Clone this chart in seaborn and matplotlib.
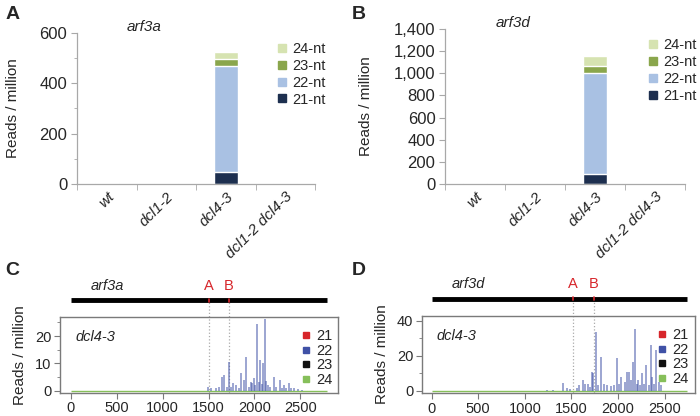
import numpy as np
import pandas as pd
import seaborn as sns
import matplotlib.pyplot as plt
from matplotlib.lines import Line2D
from matplotlib.ticker import MultipleLocator, FuncFormatter
import matplotlib.transforms as mtrans

sns.set_style("white")
plt.rcParams['font.family'] = ['Liberation Sans', 'DejaVu Sans']

# ---- data: stacked bars (reads / million) ----
genotypes = ['wt', 'dcl1-2', 'dcl4-3', 'dcl1-2 dcl4-3']
size_classes = ['21-nt', '22-nt', '23-nt', '24-nt']
arf3a_21 = [0.5, 0.3, 48, 0.3]
arf3a_22 = [2.0, 0.8, 422, 0.8]
arf3a_23 = [1.0, 0.6, 26, 0.6]
arf3a_24 = [2.5, 1.3, 28, 1.3]
arf3d_21 = [1.0, 0.5, 94, 0.5]
arf3d_22 = [3.0, 2.0, 907, 2.0]
arf3d_23 = [1.5, 1.0, 66, 1.0]
arf3d_24 = [3.5, 2.5, 85, 2.5]

# ---- data: dcl4-3 small RNA positions along transcripts ----
arf3a_len = 2795
arf3a_sites = [1502, 1720]
arf3a_pos = [1494, 1530, 1580, 1610, 1646, 1664, 1700, 1719, 1740, 1762, 1798, 1830,
             1854, 1890, 1912, 1940, 1960, 1974, 1999, 2010, 2028, 2045, 2064, 2078,
             2090, 2111, 2130, 2150, 2175, 2210, 2240, 2275, 2300, 2319, 2345, 2374,
             2400, 2430, 2470, 2520]
arf3a_val = [1.5, 0.8, 1.0, 1.2, 5.0, 5.7, 1.5, 10.6, 1.5, 2.7, 2.0, 1.0,
             6.4, 3.9, 12.5, 1.5, 3.0, 2.9, 4.5, 2.0, 24.3, 3.0, 11.2, 2.5,
             10.0, 26.3, 3.5, 2.0, 1.5, 5.1, 1.2, 3.9, 1.0, 2.0, 1.0, 2.9,
             1.0, 0.8, 0.5, 0.4]
arf3d_len = 2740
arf3d_sites = [1518, 1743]
arf3d_pos = [1240, 1300, 1411, 1447, 1480, 1560, 1582, 1625, 1643, 1678, 1700, 1725,
             1732, 1761, 1790, 1814, 1847, 1880, 1920, 1960, 1993, 2010, 2036, 2071,
             2095, 2117, 2140, 2160, 2186, 2200, 2215, 2240, 2257, 2280, 2304, 2330,
             2357, 2368, 2390, 2411, 2440, 2464]
arf3d_val = [0.5, 0.6, 4.2, 1.5, 0.8, 1.5, 3.2, 6.1, 4.0, 4.0, 2.0, 10.9,
             10.0, 33.7, 3.0, 19.4, 4.0, 3.0, 2.5, 3.5, 18.5, 4.0, 8.0, 5.0,
             10.5, 10.9, 6.0, 16.6, 35.3, 4.0, 6.0, 3.0, 10.0, 4.0, 14.7, 3.0,
             26.1, 8.0, 4.0, 23.3, 5.0, 3.0]

bar_colors = {'21-nt': '#1d2f4f', '22-nt': '#a9c1e3', '23-nt': '#8aa64c', '24-nt': '#d6e3b1'}
pos_colors = {'21': '#d7262b', '22': '#3f51a6', '23': '#111111', '24': '#86bf5a'}

fig = plt.figure(figsize=(7, 4.16), dpi=100)
axA = fig.add_axes([0.110, 0.5577, 0.340, 0.363])
axB = fig.add_axes([0.636, 0.5577, 0.343, 0.3726])
axC = fig.add_axes([0.0857, 0.0553, 0.397, 0.1827])
axD = fig.add_axes([0.6024, 0.0546, 0.390, 0.186])


def stacked(ax, s21, s22, s23, s24, ymax, major, minor, gene):
    df = pd.DataFrame({'genotype': genotypes, '21-nt': s21, '22-nt': s22,
                       '23-nt': s23, '24-nt': s24})
    cum = df[size_classes].cumsum(axis=1)
    # draw tallest cumulative layer first so lower layers sit on top
    for cls in size_classes[::-1]:
        sns.barplot(x=df['genotype'], y=cum[cls], color=bar_colors[cls], width=0.4,
                    saturation=1, errorbar=None, ax=ax)
    ax.set_xlim(-0.5, 3.5)
    ax.set_ylim(0, ymax)
    ax.yaxis.set_major_locator(MultipleLocator(major))
    if minor:
        ax.yaxis.set_minor_locator(MultipleLocator(minor))
    ax.yaxis.set_major_formatter(FuncFormatter(lambda v, p: f'{int(v):,}'))
    for s in ['top', 'right']:
        ax.spines[s].set_visible(False)
    for s in ['left', 'bottom']:
        ax.spines[s].set_color('#a8a8a8')
        ax.spines[s].set_linewidth(0.9)
    ax.tick_params(axis='y', which='both', left=True, direction='out', color='#a8a8a8',
                   labelsize=12, pad=3)
    ax.tick_params(axis='y', which='major', length=4)
    ax.tick_params(axis='y', which='minor', length=2.5)
    ax.set_xticks(np.arange(-0.5, 4, 1), minor=True)
    ax.tick_params(axis='x', which='minor', bottom=True, length=4, color='#a8a8a8')
    ax.tick_params(axis='x', which='major', length=0, pad=4)
    ax.set_xticks(range(4))
    ax.set_xticklabels(genotypes, rotation=45, ha='right', rotation_mode='anchor',
                       fontstyle='italic', fontsize=11)
    ax.set_xlabel('')
    ax.set_ylabel('Reads / million', fontsize=11)
    ax.text(0.21, 1.04, gene, transform=ax.transAxes, fontstyle='italic',
            fontsize=11, va='center')
    handles = [Line2D([], [], marker='s', ls='', color=bar_colors[c], markersize=6)
               for c in size_classes[::-1]]
    ax.legend(handles, size_classes[::-1], loc='upper right', bbox_to_anchor=(1.07, 0.98),
              frameon=False, fontsize=10.5, handletextpad=0.1, labelspacing=0.2,
              handlelength=1.2, borderaxespad=0)


stacked(axA, arf3a_21, arf3a_22, arf3a_23, arf3a_24, 600, 200, 100, 'arf3a')
stacked(axB, arf3d_21, arf3d_22, arf3d_23, arf3d_24, 1400, 200, None, 'arf3d')
axA.yaxis.set_label_coords(-0.24, 0.5)
axB.yaxis.set_label_coords(-0.3, 0.5)


def positions(ax, pos, val, length, sites, gene, xlim, ylim, major, minor, bar_y, bar_x):
    ax.hlines(0, 0, length, color=pos_colors['24'], lw=1.0, zorder=2)
    ax.vlines(pos, 0, val, color=pos_colors['22'], lw=1.2, alpha=0.6, zorder=3)
    ax.set_xlim(*xlim)
    ax.set_ylim(*ylim)
    ax.xaxis.set_major_locator(MultipleLocator(500))
    ax.yaxis.set_major_locator(MultipleLocator(major))
    ax.yaxis.set_minor_locator(MultipleLocator(minor))
    for s in ax.spines.values():
        s.set_color('#7a7a7a')
        s.set_linewidth(1.0)
    ax.tick_params(axis='both', which='both', direction='out', color='#7a7a7a',
                   labelsize=10.5, left=True, bottom=True)
    ax.tick_params(axis='both', which='major', length=4, pad=2)
    ax.tick_params(axis='y', which='minor', length=2.5)
    ax.set_ylabel('Reads / million', fontsize=11)
    ax.yaxis.set_label_coords(-0.12, 0.5)
    trans = mtrans.blended_transform_factory(ax.transData, ax.transAxes)
    ax.plot([0, length], [bar_y, bar_y], color='black', lw=3.5, transform=trans,
            clip_on=False, solid_capstyle='butt')
    for s, lab in zip(sites, ['A', 'B']):
        ax.plot([s, s], [0, bar_y], color='#aaaaaa', lw=0.9, ls=':', transform=trans,
                clip_on=False, zorder=1)
        ax.plot([s, s], [bar_y - 0.02, bar_y + 0.02], color='#d7262b', lw=1.2,
                transform=trans, clip_on=False)
        ax.text(s, bar_y + 0.1, lab, color='#d7262b', fontsize=10.5, ha='center',
                va='bottom', transform=trans)
    ax.text(bar_x, bar_y + 0.1, gene, fontstyle='italic', fontsize=10.5, va='bottom',
            transform=trans)
    ax.text(0.055, 0.74, 'dcl4-3', fontstyle='italic', fontsize=10.5, va='center',
            transform=ax.transAxes)
    handles = [Line2D([], [], marker='s', ls='', color=pos_colors[k], markersize=5)
               for k in pos_colors]
    ax.legend(handles, list(pos_colors), loc='upper right', bbox_to_anchor=(1.0, 0.92),
              frameon=False, fontsize=10.5, handletextpad=0.1, labelspacing=0.05,
              handlelength=1.2, borderaxespad=0)


positions(axC, arf3a_pos, arf3a_val, arf3a_len, arf3a_sites, 'arf3a',
          (-120, 2910), (-0.85, 27), 10, 5, 1.22, 210)
positions(axD, arf3d_pos, arf3d_val, arf3d_len, arf3d_sites, 'arf3d',
          (-107, 2822), (-1.5, 42.7), 20, 10, 1.22, 214)

for lab, x, y in [('A', 0.008, 0.985), ('B', 0.503, 0.985), ('C', 0.008, 0.37), ('D', 0.503, 0.37)]:
    fig.text(x, y, lab, fontsize=14, fontweight='bold', va='top')

fig.savefig('out.png', dpi=100)
